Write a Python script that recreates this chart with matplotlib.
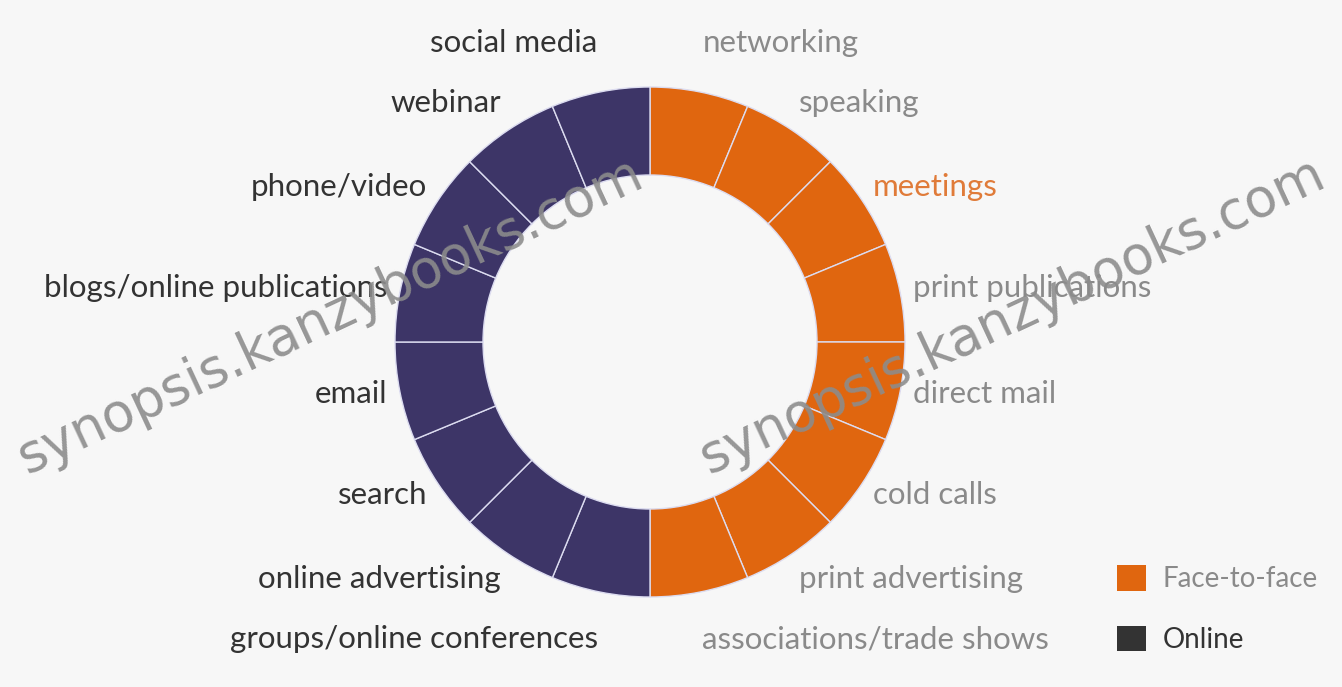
import matplotlib
matplotlib.use('Agg')
import matplotlib.pyplot as plt
import matplotlib.patches as mpatches
import numpy as np

# channels, clockwise from the top
face_labels = ['networking', 'speaking', 'meetings', 'print publications',
               'direct mail', 'cold calls', 'print advertising',
               'associations/trade shows']
online_labels = ['groups/online conferences', 'online advertising', 'search',
                 'email', 'blogs/online publications', 'phone/video',
                 'webinar', 'social media']
face_values = [1, 1, 1, 1, 1, 1, 1, 1]
online_values = [1, 1, 1, 1, 1, 1, 1, 1]
legend_labels = ['Face-to-face', 'Online']
watermark = 'synopsis.kanzybooks.com'

ORANGE = '#e0660f'
NAVY = '#3d3567'
BG = '#f7f7f7'

W, H = 1342, 687
cx, cy = 650, 342          # donut centre in pixels
r_out, r_in = 255, 167

plt.rcParams['font.family'] = ['Lato', 'DejaVu Sans']

fig = plt.figure(figsize=(W / 100, H / 100), dpi=100)
fig.patch.set_facecolor(BG)
ax = fig.add_axes([0, 0, 1, 1])

values = face_values + online_values
labels = face_labels + online_labels
colors = [ORANGE] * len(face_values) + [NAVY] * len(online_values)

wedges, _ = ax.pie(values, colors=colors, radius=r_out, startangle=90,
                   counterclock=False, center=(0, 0), frame=True,
                   wedgeprops=dict(width=r_out - r_in, edgecolor='#dcdcf0',
                                   linewidth=1.0))
ax.set_xlim(-cx, W - cx)
ax.set_ylim(-(H - cy), cy)
ax.set_aspect('equal')
ax.axis('off')

# labels outside the ring, spread a bit more evenly in height
rx, ry = 268, 318
for i, (w, lab) in enumerate(zip(wedges, labels)):
    mid = np.deg2rad((w.theta1 + w.theta2) / 2)
    elev = np.arcsin(np.sin(mid))
    x = rx * np.cos(mid)
    y = ry * (0.6 * np.sin(elev) + 0.4 * elev / (np.pi / 2)) + 1
    if i < len(face_labels):
        col = '#e07b39' if lab == 'meetings' else '#8a8a8a'
        ha = 'left'
    else:
        col = '#333333'
        ha = 'right'
    ax.text(x, y, lab, ha=ha, va='center', fontsize=22.5, color=col)

# legend
handles = [mpatches.Patch(facecolor=ORANGE), mpatches.Patch(facecolor='#333333')]
leg = fig.legend(handles, legend_labels, loc='upper left',
                 bbox_to_anchor=(1092 / W, 1 - 540 / H), frameon=False,
                 fontsize=20, handlelength=1.05, handleheight=1.05,
                 handletextpad=0.6, labelspacing=1.2)
leg.get_texts()[0].set_color('#8a8a8a')
leg.get_texts()[1].set_color('#333333')

# watermark
for wx in (330 - cx, 1012 - cx):
    ax.text(wx, cy - 316, watermark, rotation=25, ha='center', va='center',
            fontsize=38, color='#8c8c8c', alpha=0.9, family='DejaVu Sans')

fig.savefig('out.png', dpi=100, facecolor=BG)
